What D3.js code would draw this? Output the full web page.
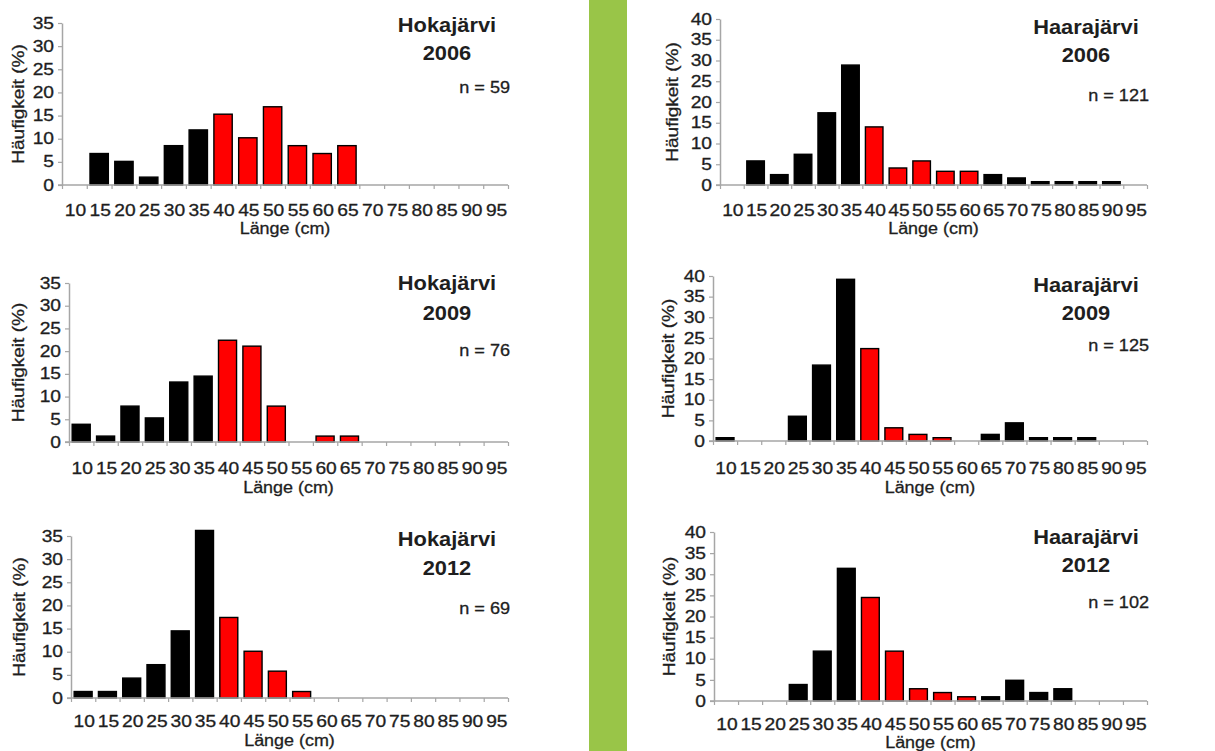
<!DOCTYPE html>
<html>
<head>
<meta charset="utf-8">
<script src="https://cdn.jsdelivr.net/npm/d3@7"></script>
<style>
  html, body { margin: 0; padding: 0; background: #fff; }
  svg { display: block; }
  text { font-family: "Liberation Sans", Arial, sans-serif; fill: #1e1e1e; }
  text.reg { stroke: #1e1e1e; stroke-width: 0.3; }
</style>
</head>
<body>
<svg id="chart" width="1215" height="751"></svg>
<script>
// ---- data ----
const categories = ["10","15","20","25","30","35","40","45","50","55","60","65","70","75","80","85","90","95"];

const hoka2006 = [0, 6.8, 5.1, 1.7, 8.5, 11.9, 15.3, 10.2, 16.9, 8.5, 6.8, 8.5, 0, 0, 0, 0, 0, 0];
const hoka2009 = [3.9, 1.3, 7.9, 5.3, 13.2, 14.5, 22.4, 21.1, 7.9, 0, 1.3, 1.3, 0, 0, 0, 0, 0, 0];
const hoka2012 = [1.4, 1.4, 4.3, 7.2, 14.5, 36.2, 17.4, 10.1, 5.8, 1.4, 0, 0, 0, 0, 0, 0, 0, 0];
const haara2006 = [0, 5.8, 2.5, 7.4, 17.4, 28.9, 14.0, 4.1, 5.8, 3.3, 3.3, 2.5, 1.7, 0.8, 0.8, 0.8, 0.8, 0];
const haara2009 = [0.8, 0, 0, 6.0, 18.4, 39.2, 22.4, 3.2, 1.6, 0.8, 0, 1.6, 4.4, 0.8, 0.8, 0.8, 0, 0];
const haara2012 = [0, 0, 0, 3.9, 11.8, 31.4, 24.5, 11.8, 2.9, 2.0, 1.0, 1.0, 4.9, 2.0, 2.9, 0, 0, 0];

const lakes = ["Hokajärvi", "Hokajärvi", "Hokajärvi", "Haarajärvi", "Haarajärvi", "Haarajärvi"];
const years = ["2006", "2009", "2012", "2006", "2009", "2012"];
const sampleSizes = [59, 76, 69, 121, 125, 102];
const yMaxes = [35, 35, 35, 40, 40, 40];
// highlighted (red) length classes per panel
const redClasses = [
  ["40","45","50","55","60","65"],
  ["40","45","50","55","60","65"],
  ["40","45","50","55"],
  ["40","45","50","55","60"],
  ["40","45","50","55"],
  ["40","45","50","55","60"]
];
const seriesList = [hoka2006, hoka2009, hoka2012, haara2006, haara2009, haara2012];

const xTitle = "Länge (cm)";
const yTitle = "Häufigkeit (%)";

// ---- layout (positions only) ----
const layout = [
  {x0: 62,  x1: 508,  base: 185, top: 23,  titleY: 25,  yearY: 53,  nY: 87,  tickY: 210, xlabY: 228, ytX: 18},
  {x0: 69,  x1: 508,  base: 442, top: 283, titleY: 283, yearY: 313, nY: 350, tickY: 468, xlabY: 487, ytX: 18},
  {x0: 71,  x1: 508,  base: 698, top: 536, titleY: 539, yearY: 568, nY: 608, tickY: 721, xlabY: 740, ytX: 19},
  {x0: 720, x1: 1147, base: 185, top: 19,  titleY: 27,  yearY: 55,  nY: 95,  tickY: 210, xlabY: 228, ytX: 672},
  {x0: 713, x1: 1147, base: 441, top: 276, titleY: 285, yearY: 313, nY: 345, tickY: 468, xlabY: 487, ytX: 668},
  {x0: 714, x1: 1147, base: 701, top: 532, titleY: 537, yearY: 565, nY: 602, tickY: 724, xlabY: 742, ytX: 669}
];

const svg = d3.select("#chart");
svg.append("rect").attr("x", 0).attr("y", 0).attr("width", 1215).attr("height", 751).attr("fill", "#fff");
// green separator
svg.append("rect").attr("x", 589).attr("y", 0).attr("width", 38).attr("height", 751).attr("fill", "#99c548");

function stretch(sel, f) {
  sel.each(function() {
    const w = this.getComputedTextLength();
    d3.select(this).attr("textLength", w * f).attr("lengthAdjust", "spacingAndGlyphs");
  });
}

const axisColor = "#a6a6a6";

seriesList.forEach((vals, i) => {
  const L = layout[i];
  const g = svg.append("g");

  const x = d3.scaleBand().domain(categories).range([L.x0, L.x1]).paddingInner(0.26).paddingOuter(0.13);
  const xb = d3.scaleLinear().domain([0, categories.length]).range([L.x0, L.x1]);
  const y = d3.scaleLinear().domain([0, yMaxes[i]]).range([L.base, L.top]);

  // bars
  const data = categories.map((c, k) => ({c, v: vals[k]})).filter(d => d.v > 0);
  g.selectAll("rect.bar").data(data).enter().append("rect")
    .attr("class", "bar")
    .attr("x", d => x(d.c))
    .attr("width", x.bandwidth())
    .attr("y", d => y(d.v))
    .attr("height", d => y(0) - y(d.v))
    .attr("fill", d => redClasses[i].includes(d.c) ? "#ff0000" : "#000")
    .attr("stroke", "#000")
    .attr("stroke-width", 1.4);

  // x axis (boundary ticks)
  const xAxisG = g.append("g").attr("transform", `translate(0,${L.base})`)
    .call(d3.axisBottom(xb).tickValues(d3.range(categories.length + 1)).tickFormat("").tickSize(4).tickSizeOuter(0));
  xAxisG.select(".domain").attr("stroke", axisColor).attr("stroke-width", 1.5).attr("d", `M${L.x0 - 4},0H${L.x1}`);
  xAxisG.selectAll(".tick line").attr("stroke", axisColor).attr("stroke-width", 1.2);

  // x tick labels (band centres)
  const xl = g.selectAll("text.xt").data(categories).enter().append("text")
    .attr("class", "xt reg")
    .attr("x", d => x(d) + x.bandwidth() / 2 + 1)
    .attr("y", L.tickY + 5.7)
    .attr("text-anchor", "middle")
    .attr("font-size", 16)
    .text(d => d);
  stretch(xl, 1.2);

  // y axis
  const yAxisG = g.append("g").attr("transform", `translate(${L.x0},0)`)
    .call(d3.axisLeft(y).tickValues(d3.range(0, yMaxes[i] + 1, 5)).tickSize(4).tickSizeOuter(0).tickPadding(4));
  yAxisG.select(".domain").attr("stroke", axisColor).attr("stroke-width", 1.5);
  yAxisG.selectAll(".tick line").attr("stroke", axisColor).attr("stroke-width", 1.2);
  yAxisG.selectAll(".tick text").attr("class", "reg").attr("font-size", 16)
    .attr("font-family", "Liberation Sans, Arial, sans-serif").attr("fill", "#1e1e1e");
  stretch(yAxisG.selectAll(".tick text"), 1.2);

  // axis titles
  const xt = g.append("text").attr("class", "reg").attr("x", (L.x0 + L.x1) / 2).attr("y", L.xlabY + 5.5)
    .attr("text-anchor", "middle").attr("font-size", 16).text(xTitle);
  stretch(xt, 1.12);
  const yc = (L.base + L.top) / 2;
  const yt = g.append("text").attr("class", "reg").attr("transform", `translate(${L.ytX + 5.5},${yc}) rotate(-90)`)
    .attr("text-anchor", "middle").attr("font-size", 16).text(yTitle);
  stretch(yt, 1.19);

  // titles
  const tx = L.x1 - 61;
  const t1 = g.append("text").attr("x", tx).attr("y", L.titleY + 7).attr("text-anchor", "middle")
    .attr("font-size", 19.5).attr("font-weight", "bold").text(lakes[i]);
  stretch(t1, 1.12);
  const t2 = g.append("text").attr("x", tx).attr("y", L.yearY + 7).attr("text-anchor", "middle")
    .attr("font-size", 19.5).attr("font-weight", "bold").text(years[i]);
  stretch(t2, 1.12);
  const nt = g.append("text").attr("class", "reg").attr("x", L.x1 + 2).attr("y", L.nY + 5.7).attr("text-anchor", "end")
    .attr("font-size", 16).text("n = " + sampleSizes[i]);
  stretch(nt, 1.13);
});
</script>
</body>
</html>
